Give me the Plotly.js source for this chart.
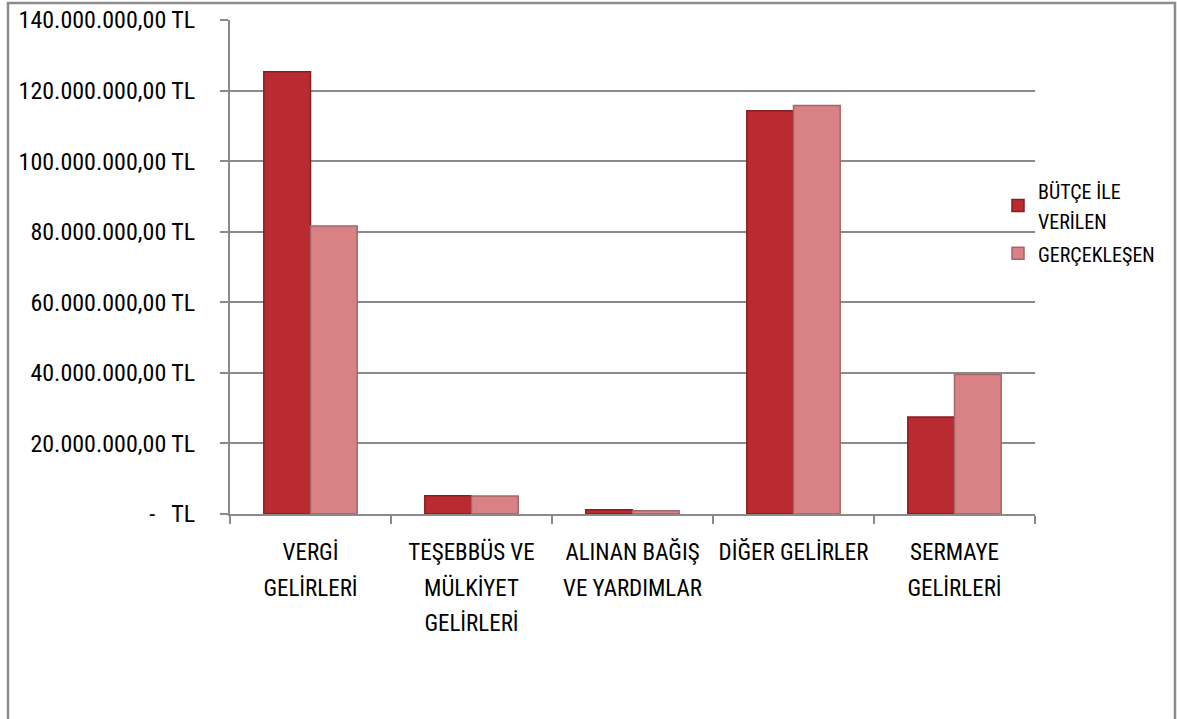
<!DOCTYPE html>
<html>
<head>
<meta charset="utf-8">
<script src="https://cdn.plot.ly/plotly-3.0.1.min.js"></script>
<style>
  html, body { margin: 0; padding: 0; background: #fff; }
  #chart { width: 1177px; height: 719px; }
</style>
</head>
<body>
<div id="chart"></div>
<script>
// ---- data ----
const categories = ["VERGİ GELİRLERİ", "TEŞEBBÜS VE MÜLKİYET GELİRLERİ", "ALINAN BAĞIŞ VE YARDIMLAR", "DİĞER GELİRLER", "SERMAYE GELİRLERİ"];
const categoryLines = [["VERGİ", "GELİRLERİ"], ["TEŞEBBÜS VE", "MÜLKİYET", "GELİRLERİ"], ["ALINAN BAĞIŞ", "VE YARDIMLAR"], ["DİĞER GELİRLER"], ["SERMAYE", "GELİRLERİ"]];
const seriesNames = ["BÜTÇE İLE VERİLEN", "GERÇEKLEŞEN"];
const butceValues = [125300000, 5200000, 1200000, 114300000, 27500000];
const gerceklesenValues = [81600000, 5100000, 900000, 115800000, 39500000];
const yTickVals = [0, 20000000, 40000000, 60000000, 80000000, 100000000, 120000000, 140000000];
const yTickText = ["-\u00A0\u00A0 TL", "20.000.000,00 TL", "40.000.000,00 TL", "60.000.000,00 TL", "80.000.000,00 TL", "100.000.000,00 TL", "120.000.000,00 TL", "140.000.000,00 TL"];

const FONT = '"Liberation Sans Narrow", "Roboto Condensed", "Open Sans", sans-serif';
const span = (t, s) => '<span style="font-size:' + s + 'px">' + t + '</span>';
const xTickText = categoryLines.map(lines => lines.map(l => span(l, 23)).join('<br>'));

const traces = [
  {
    type: 'bar', name: span('BÜTÇE İLE', 20) + '<br>' + span('VERİLEN', 20),
    x: categories, y: butceValues,
    marker: { color: '#B92B31', line: { color: '#861D21', width: 1.5 } },
    hoverinfo: 'x+y'
  },
  {
    type: 'bar', name: span(seriesNames[1], 20),
    x: categories, y: gerceklesenValues,
    marker: { color: '#D88286', line: { color: '#A5666A', width: 1.5 } },
    hoverinfo: 'x+y'
  }
];

const L = 230, R = 1035, T = 20, B = 514;
const pw = R - L, ph = B - T;
const px2x = p => (p - L) / pw;
const py2y = p => (B - p) / ph;

const layout = {
  width: 1177, height: 719,
  margin: { l: L, r: 1177 - R, t: T, b: 719 - B, pad: 0 },
  paper_bgcolor: '#ffffff', plot_bgcolor: '#ffffff',
  font: { family: FONT, color: '#000000' },
  barmode: 'group', bargap: 0.42, bargroupgap: 0,
  showlegend: true,
  legend: {
    x: px2x(998), y: py2y(169), xanchor: 'left', yanchor: 'top',
    font: { family: FONT, size: 23, color: '#000' },
    bgcolor: 'rgba(0,0,0,0)', tracegroupgap: 0, itemwidth: 30
  },
  xaxis: {
    type: 'category',
    tickmode: 'array', tickvals: categories, ticktext: xTickText,
    tickson: 'boundaries', ticks: 'outside', ticklen: 8, tickwidth: 2, tickcolor: '#8a8a8a',
    showline: true, linecolor: '#8a8a8a', linewidth: 2,
    showgrid: false, zeroline: false,
    tickfont: { family: FONT, size: 27, color: '#000' },
    ticklabelstandoff: 12,
    fixedrange: true
  },
  yaxis: {
    range: [0, 140000000],
    tickmode: 'array', tickvals: yTickVals, ticktext: yTickText,
    ticks: 'outside', ticklen: 8, tickwidth: 2, tickcolor: '#8a8a8a',
    showline: true, linecolor: '#8a8a8a', linewidth: 2,
    showgrid: true, gridcolor: '#8a8a8a', gridwidth: 2,
    zeroline: false,
    tickfont: { family: FONT, size: 24, color: '#000' },
    ticklabelstandoff: 20,
    fixedrange: true
  },
  shapes: [
    { type: 'rect', xref: 'paper', yref: 'paper', x0: px2x(8), x1: px2x(1175), y0: py2y(740), y1: py2y(3),
      line: { color: '#8c8c8c', width: 2.5 }, fillcolor: 'rgba(0,0,0,0)', layer: 'below' }
  ]
};

Plotly.newPlot('chart', traces, layout, { displayModeBar: false, staticPlot: false });
</script>
</body>
</html>
